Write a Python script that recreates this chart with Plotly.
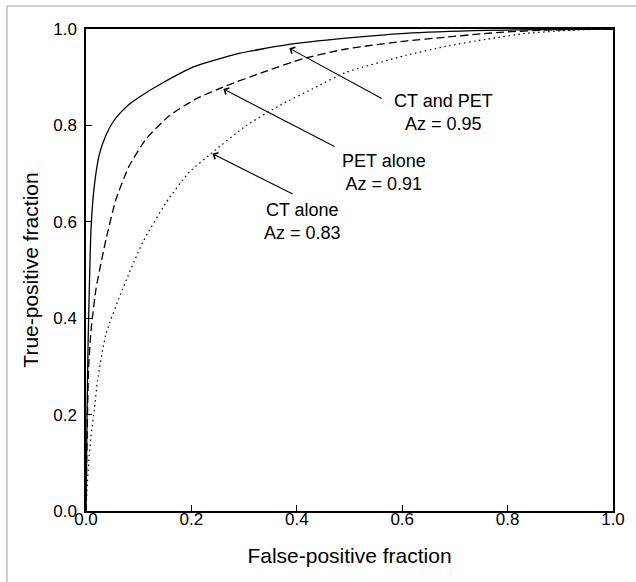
import plotly.graph_objects as go

# ROC curve data
fpf_ct_pet = [0, 0.002, 0.004, 0.0063, 0.0095, 0.0158, 0.0253, 0.038, 0.05, 0.065, 0.08, 0.10, 0.145,
              0.205, 0.2846, 0.3795, 0.4934, 0.606, 0.76, 0.88, 1.0]
tpf_ct_pet = [0, 0.2, 0.35, 0.461, 0.585, 0.675, 0.74, 0.78, 0.805, 0.826, 0.842, 0.858, 0.888,
              0.922, 0.948, 0.967, 0.981, 0.991, 0.997, 0.999, 1.0]

fpf_pet = [0, 0.002, 0.005, 0.01, 0.019, 0.038, 0.057, 0.082, 0.114, 0.158, 0.2087, 0.2657,
           0.335, 0.411, 0.493, 0.606, 0.683, 0.75, 0.80, 0.88, 1.0]
tpf_pet = [0, 0.15, 0.30, 0.38, 0.461, 0.564, 0.647, 0.716, 0.772, 0.82, 0.855, 0.882,
           0.910, 0.938, 0.9585, 0.975, 0.983, 0.990, 0.994, 0.998, 1.0]

fpf_ct = [0, 0.002, 0.005, 0.0095, 0.0158, 0.022, 0.038, 0.0696, 0.1075, 0.152, 0.196, 0.240,
          0.3036, 0.367, 0.430, 0.493, 0.606, 0.683, 0.76, 0.836, 0.93, 1.0]
tpf_ct = [0, 0.046, 0.10, 0.155, 0.21, 0.272, 0.368, 0.461, 0.557, 0.640, 0.703, 0.744,
          0.7994, 0.841, 0.876, 0.910, 0.945, 0.964, 0.979, 0.991, 0.998, 1.0]

labels = ["CT and PET<br>Az = 0.95", "PET alone<br>Az = 0.91", "CT alone<br>Az = 0.83"]
label_pos = [(0.679, 0.827), (0.566, 0.7015), (0.411, 0.600)]
arrow_heads = [(0.386, 0.960), (0.2606, 0.8755), (0.240, 0.741)]
arrow_tails = [(0.564, 0.854), (0.4744, 0.7545), (0.395, 0.656)]

tick_vals = [0, 0.2, 0.4, 0.6, 0.8, 1.0]
tick_text = ["0.0", "0.2", "0.4", "0.6", "0.8", "1.0"]

FONT = "Arial, Liberation Sans, Helvetica, sans-serif"

fig = go.Figure()
fig.add_trace(go.Scatter(x=fpf_ct_pet, y=tpf_ct_pet, mode="lines",
                         line=dict(color="black", width=1.3, shape="spline", smoothing=0.5),
                         showlegend=False))
fig.add_trace(go.Scatter(x=fpf_pet, y=tpf_pet, mode="lines",
                         line=dict(color="black", width=1.3, dash="8px,4px", shape="spline", smoothing=0.5),
                         showlegend=False))
fig.add_trace(go.Scatter(x=fpf_ct, y=tpf_ct, mode="lines",
                         line=dict(color="black", width=1.2, dash="1.5px,3.5px", shape="spline", smoothing=0.5),
                         showlegend=False))

for (tx, ty), txt in zip(label_pos, labels):
    fig.add_annotation(x=tx, y=ty, xref="x", yref="y", text=txt, showarrow=False,
                       font=dict(family=FONT, size=18, color="black"), align="center")

for (hx, hy), (sx, sy) in zip(arrow_heads, arrow_tails):
    fig.add_annotation(x=hx, y=hy, xref="x", yref="y", ax=sx, ay=sy, axref="x", ayref="y",
                       text="", showarrow=True, arrowhead=4, arrowsize=1.3, arrowwidth=1.1,
                       arrowcolor="black")

W, H = 636, 582
L, R, T, B = 86, 23, 29, 71
pw, ph = W - L - R, H - T - B

def px2paper_x(p):
    return (p - L) / pw

def py2paper_y(p):
    return (H - B - p) / ph

# light gray frame (left and top edges)
fx, fy = px2paper_x(7), py2paper_y(6)
fig.add_shape(type="line", xref="paper", yref="paper", x0=fx, y0=fy, x1=px2paper_x(W + 5), y1=fy,
              line=dict(color="#a0a0a0", width=1))
fig.add_shape(type="line", xref="paper", yref="paper", x0=fx, y0=fy, x1=fx, y1=py2paper_y(H + 5),
              line=dict(color="#a0a0a0", width=1))

axis_common = dict(range=[0, 1], tickvals=tick_vals, ticktext=tick_text, ticks="inside", ticklen=6,
                   tickwidth=1.3, tickcolor="black", showline=True, linecolor="black", linewidth=1.5,
                   mirror=True, showgrid=False, zeroline=False,
                   tickfont=dict(family=FONT, size=17, color="black"))

fig.update_xaxes(**axis_common, ticklabelstandoff=-8,
                 title=dict(text="False-positive fraction", font=dict(family=FONT, size=21, color="black"),
                            standoff=20))
fig.update_yaxes(**axis_common, ticklabelstandoff=4,
                 title=dict(text="True-positive fraction", font=dict(family=FONT, size=21, color="black"),
                            standoff=9))

fig.update_layout(width=W, height=H, margin=dict(l=L, r=R, t=T, b=B, pad=0),
                  paper_bgcolor="white", plot_bgcolor="white", showlegend=False)

fig.write_html("out.html", config={"displayModeBar": False},
               post_script="document.body.style.margin='0';")
